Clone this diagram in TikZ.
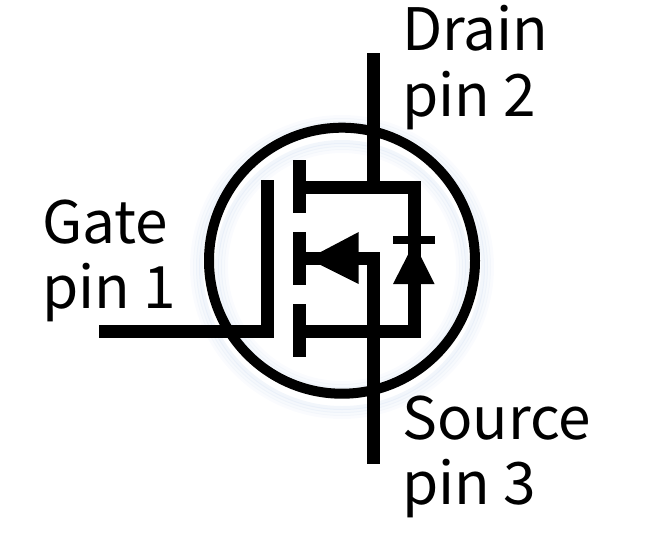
\documentclass[tikz,border=0pt]{standalone}
\usepackage{fontspec}
\setmainfont{Noto Sans CJK JP}
\usetikzlibrary{calc}
\definecolor{glowblue}{RGB}{170,195,230}
\tikzset{
  wire/.style={line width=13pt},
  label/.style={anchor=base west,inner sep=0pt,font=\fontsize{58.5}{58.5}\selectfont},
}
\begin{document}
\begin{tikzpicture}[x=1pt,y=-1pt]
\useasboundingbox (0,0) rectangle (658,555);
% glow round the case
\foreach \r/\o in {150/0.06,147/0.09,144/0.12,141/0.15,125/0.15,122/0.12,119/0.09,116/0.06}
  \draw[glowblue,line width=4pt,opacity=\o] (342,267) circle (\r);
% case
\coordinate (centre) at (342,260.7);
\draw[line width=10pt] (centre) circle (133);
% drain
\coordinate (draintop) at (373.5,53);
\coordinate (drainjoin) at (373.5,187);
\coordinate (bartop) at (299.5,187);
\coordinate (diodetop) at (414,187);
\coordinate (diodebot) at (414,331);
\coordinate (sourcejoin) at (373.5,331);
\coordinate (barbot) at (299.5,331);
\coordinate (sourcebot) at (373.5,464);
\coordinate (stub) at (373.5,258.7);
\coordinate (barmid) at (299.5,258.7);
\draw[wire] (draintop) -- (drainjoin);
\draw[wire,line join=miter] (bartop) -- (diodetop) -- (diodebot) -- (barbot);
\draw[wire,line join=miter] (barmid) -- (stub) -- (sourcebot);
% channel
\draw[wire] (299.5,160) -- (299.5,213);
\draw[wire] (299.5,232) -- (299.5,285);
\draw[wire] (299.5,304) -- (299.5,357);
% gate
\draw[wire,line join=miter] (99,331) -- (267.7,331) -- (267.7,180);
% arrow and diode
\fill (308,258.7) -- (358.7,232) -- (358.7,284) -- cycle;
\fill (392.7,236) rectangle (435,244);
\fill (414,243) -- (434.5,284) -- (393,284) -- cycle;
% labels
\node[label] (drain) at (402,50) {Drain};
\node[label] (drainpin) at (402,116) {pin 2};
\node[label] (gate) at (42,243) {Gate};
\node[label] (gatepin) at (42,308.5) {pin 1};
\node[label] (source) at (402,439) {Source};
\node[label] (sourcepin) at (402,504.5) {pin 3};
\end{tikzpicture}
\end{document}
